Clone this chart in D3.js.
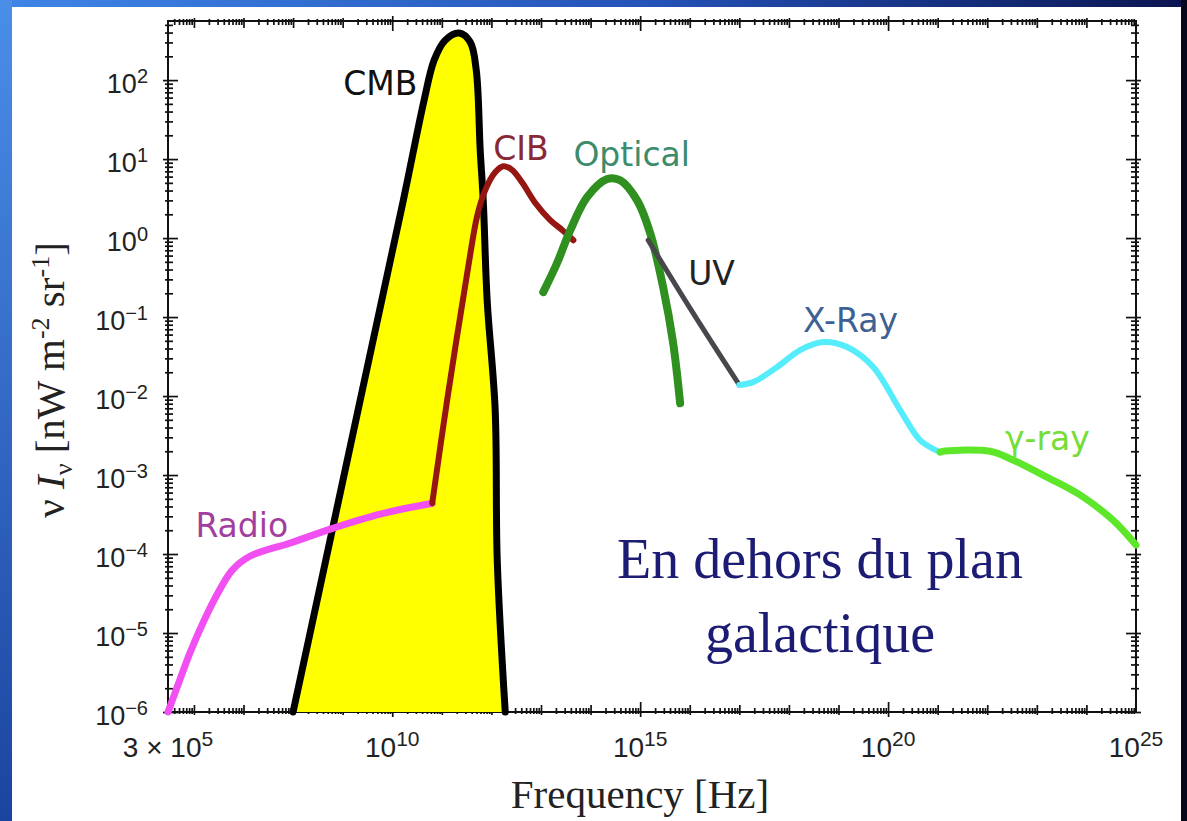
<!DOCTYPE html>
<html>
<head>
<meta charset="utf-8">
<script src="https://cdn.jsdelivr.net/npm/d3@7"></script>
<style>
  body { margin: 0; background: #fff; }
  svg { display: block; }
</style>
</head>
<body>
<div id="chart"></div>
<script>
// frequency [Hz] , nu I_nu [nW m^-2 sr^-1]
var cmb = [[1e8, 1e-6], [2.26e9, 8.9e-3], [1.67e10, 3.0], [4.4e10, 56], [7.0e10, 179],
  [1.17e11, 320], [2.24e11, 394], [3.74e11, 302], [4.94e11, 134], [5.94e11, 13],
  [6.84e11, 3.0], [8.2e11, 0.164], [1.19e12, 6.7e-3], [1.31e12, 8.4e-5], [1.9e12, 1e-6]];
var radio = [[3e5, 1e-6], [4.84e5, 2.26e-6], [8.45e5, 5.74e-6], [1.55e6, 1.38e-5], [2.97e6, 3.12e-5],
  [5.94e6, 6.27e-5], [1.37e7, 9.44e-5], [8.8e7, 1.38e-4], [6.5e8, 2.13e-4], [5.7e9, 3.2e-4], [6.4e10, 4.4e-4]];
var cib = [[6.4e10, 4.4e-4], [1.28e11, 8.9e-3], [3.4e11, 0.43], [5.2e11, 1.95], [7.5e11, 4.05],
  [1.19e12, 6.8], [1.73e12, 8.1], [2.6e12, 7.3], [4.2e12, 5.0], [7.6e12, 2.8],
  [1.53e13, 1.69], [2.7e13, 1.26], [4.5e13, 0.94]];
var optical = [[1.11e13, 0.207], [2.1e13, 0.48], [3.9e13, 1.26], [8.5e13, 3.3], [2.16e14, 5.6],
  [3.95e14, 5.4], [8.7e14, 3.0], [1.59e15, 1.16], [2.9e15, 0.24], [4.6e15, 0.048], [6.4e15, 8.1e-3]];
var uv = [[1.45e15, 0.94], [1.17e16, 0.112], [1.0e17, 0.0138]];
var xray = [[1.0e17, 0.0138], [1.9e17, 0.0150], [5.8e17, 0.0233], [1.68e18, 0.0382], [4.9e18, 0.0483],
  [1.49e19, 0.0417], [5.0e19, 0.0233], [1.75e20, 6.65e-3], [4.4e20, 2.77e-3], [1.12e21, 1.95e-3]];
var gamma = [[1.12e21, 1.95e-3], [1.41e21, 2.01e-3], [1.14e22, 2.0e-3], [3.3e22, 1.55e-3],
  [1.6e23, 9.4e-4], [7.4e23, 5.6e-4], [3.4e24, 2.7e-4], [1e25, 1.3e-4]];

var seriesNames = ["Radio", "CIB", "Optical", "UV", "X-Ray", "γ-ray"];
var labelNames = ["CMB", "CIB", "Optical", "UV", "X-Ray", "γ-ray", "Radio"];
var labelAt = [[1.03e9, 65], [1.09e12, 9.7], [4.5e13, 8.1], [9.3e15, 0.254], [1.93e18, 0.0645], [2.29e22, 2.07e-3], [1.07e6, 1.64e-4]];

var xTickValues = [3e5, 1e10, 1e15, 1e20, 1e25];
var xTickBase = ["3 × 10", "10", "10", "10", "10"];
var xTickExp = ["5", "10", "15", "20", "25"];
var yTickValues = [1e-6, 1e-5, 1e-4, 1e-3, 1e-2, 1e-1, 1e0, 1e1, 1e2];
var yTickExp = ["−6", "−5", "−4", "−3", "−2", "−1", "0", "1", "2"];

var width = 1187, height = 821;
var plot = { left: 168, right: 1136, top: 21, bottom: 712 };

var x = d3.scaleLog().domain([3e5, 1e25]).range([plot.left, plot.right]);
var y = d3.scaleLog().domain([1e-6, 560]).range([plot.bottom, plot.top]);

var svg = d3.select("#chart").append("svg").attr("width", width).attr("height", height);
var defs = svg.append("defs");

var gTop = defs.append("linearGradient").attr("id", "topGrad")
  .attr("x1", "0%").attr("x2", "100%").attr("y1", "0%").attr("y2", "0%");
gTop.append("stop").attr("offset", "0%").attr("stop-color", "#3f86e6");
gTop.append("stop").attr("offset", "55%").attr("stop-color", "#2452b8");
gTop.append("stop").attr("offset", "100%").attr("stop-color", "#0b1450");

var gLeft = defs.append("linearGradient").attr("id", "leftGrad")
  .attr("x1", "0%").attr("x2", "0%").attr("y1", "0%").attr("y2", "100%");
gLeft.append("stop").attr("offset", "0%").attr("stop-color", "#4a8ee8");
gLeft.append("stop").attr("offset", "100%").attr("stop-color", "#1b44a0");

// slide frame
svg.append("rect").attr("width", width).attr("height", height).attr("fill", "url(#topGrad)");
svg.append("rect").attr("x", 0).attr("y", 0).attr("width", 12).attr("height", height).attr("fill", "url(#leftGrad)");
svg.append("rect").attr("x", 1181).attr("y", 0).attr("width", 6).attr("height", height).attr("fill", "#05081c");
svg.append("rect").attr("x", 12).attr("y", 7).attr("width", 1169).attr("height", height - 7).attr("fill", "#ffffff");

// tick values
var xMinor = [], xDec = [], xFive = [];
for (var k = 5; k <= 25; k++) {
  for (var m = 1; m <= 9; m++) {
    var v = +(m + "e" + k);
    if (v <= 3e5 || v >= 1e25) continue;
    if (m > 1) xMinor.push(v);
    else if (k % 5 === 0) xFive.push(v);
    else xDec.push(v);
  }
}
var yMinor = [], yDec = [];
for (var k2 = -6; k2 <= 2; k2++) {
  for (var m2 = 1; m2 <= 9; m2++) {
    var v2 = +(m2 + "e" + k2);
    if (v2 > 560) continue;
    if (m2 > 1) yMinor.push(v2);
    else yDec.push(v2);
  }
}

var axes = svg.append("g").attr("class", "axes");

function crossTicks(axisFn, scale, values, inner, outer, tx, ty) {
  [-inner, outer].forEach(function(s) {
    axes.append("g")
      .attr("transform", "translate(" + tx + "," + ty + ")")
      .call(axisFn(scale).tickValues(values).tickSizeInner(s).tickSizeOuter(0).tickFormat(""))
      .call(function(g) { g.select(".domain").remove(); });
  });
}

crossTicks(d3.axisBottom, x, xMinor, 4, 2, 0, plot.bottom);
crossTicks(d3.axisBottom, x, xDec, 7, 3, 0, plot.bottom);
crossTicks(d3.axisBottom, x, xFive, 10, 5, 0, plot.bottom);
crossTicks(d3.axisTop, x, xMinor, 4, 2, 0, plot.top);
crossTicks(d3.axisTop, x, xDec, 7, 3, 0, plot.top);
crossTicks(d3.axisTop, x, xFive, 10, 5, 0, plot.top);
crossTicks(d3.axisLeft, y, yMinor, 5, 3, plot.left, 0);
crossTicks(d3.axisLeft, y, yDec, 10, 5, plot.left, 0);
crossTicks(d3.axisRight, y, yMinor, 5, 3, plot.right, 0);
crossTicks(d3.axisRight, y, yDec, 10, 5, plot.right, 0);

axes.selectAll("line").attr("stroke", "#111").attr("stroke-width", 1.7);

axes.append("rect")
  .attr("x", plot.left).attr("y", plot.top)
  .attr("width", plot.right - plot.left).attr("height", plot.bottom - plot.top)
  .attr("fill", "none").attr("stroke", "#111").attr("stroke-width", 2);

// tick labels
var tickFont = "'Liberation Sans', Arial, sans-serif";
var xl = svg.append("g").attr("class", "xlabels")
  .style("font-family", tickFont).attr("fill", "#222");
xTickValues.forEach(function(v, i) {
  var t = xl.append("text").attr("x", x(v)).attr("y", 757).attr("text-anchor", "middle")
    .style("font-size", "28px");
  t.append("tspan").text(xTickBase[i]);
  t.append("tspan").attr("dy", -11).style("font-size", "21px").text(xTickExp[i]);
});

var yl = svg.append("g").attr("class", "ylabels")
  .style("font-family", tickFont).attr("fill", "#222");
yTickValues.forEach(function(v, i) {
  var t = yl.append("text").attr("x", 148).attr("y", y(v) + 13).attr("text-anchor", "end")
    .style("font-size", "27px");
  t.append("tspan").text("10");
  t.append("tspan").attr("dy", -10).style("font-size", "20px").text(yTickExp[i]);
});

// axis titles
var serif = "'Liberation Serif', 'Times New Roman', serif";
svg.append("text")
  .attr("x", 640).attr("y", 808).attr("text-anchor", "middle")
  .style("font-family", serif).style("font-size", "41px").attr("fill", "#222")
  .text("Frequency [Hz]");

var yt = svg.append("text")
  .attr("transform", "translate(64,380) rotate(-90)")
  .attr("text-anchor", "middle")
  .style("font-family", serif).style("font-size", "41px").attr("fill", "#222");
yt.append("tspan").text("ν ");
yt.append("tspan").style("font-style", "italic").text("I");
yt.append("tspan").attr("dy", 8).style("font-size", "26px").text("ν");
yt.append("tspan").attr("dy", -8).text(" [nW m");
yt.append("tspan").attr("dy", -15).style("font-size", "26px").text("-2");
yt.append("tspan").attr("dy", 15).text(" sr");
yt.append("tspan").attr("dy", -15).style("font-size", "26px").text("-1");
yt.append("tspan").attr("dy", 15).text("]");

// curves
var line = d3.line()
  .x(function(d) { return x(d[0]); })
  .y(function(d) { return y(d[1]); })
  .curve(d3.curveCatmullRom.alpha(0.5));

var area = d3.area()
  .x(function(d) { return x(d[0]); })
  .y0(plot.bottom)
  .y1(function(d) { return y(d[1]); })
  .curve(d3.curveCatmullRom.alpha(0.5));

var curves = svg.append("g").attr("class", "curves")
  .attr("fill", "none").attr("stroke-linecap", "round").attr("stroke-linejoin", "round");

curves.append("path").datum(cmb).attr("d", area).attr("fill", "#ffff00").attr("stroke", "none");
curves.append("path").datum(cmb).attr("d", line).attr("stroke", "#000").attr("stroke-width", 7);

var seriesData = [radio, cib, optical, uv, xray, gamma];
var seriesColor = ["#f24ff2", "#961712", "#2f8f1f", "#47474c", "#55ecfb", "#5ee62a"];
var seriesWidth = [7, 6, 8, 5, 6, 7];
seriesData.forEach(function(d, i) {
  curves.append("path").datum(d).attr("class", "line " + seriesNames[i])
    .attr("d", line)
    .attr("stroke", seriesColor[i])
    .attr("stroke-width", seriesWidth[i]);
});

// curve labels
var labelColor = ["#111", "#8a2836", "#3b8b6c", "#222", "#3c6192", "#74dd36", "#a23f9e"];
var lbl = svg.append("g").attr("class", "labels")
  .style("font-family", "'DejaVu Sans', Verdana, sans-serif").style("font-size", "33px");
labelNames.forEach(function(n, i) {
  lbl.append("text")
    .attr("x", x(labelAt[i][0]))
    .attr("y", y(labelAt[i][1]))
    .attr("fill", labelColor[i])
    .text(n);
});

// annotation
var note = svg.append("text")
  .attr("text-anchor", "middle")
  .style("font-family", serif).style("font-size", "56px").attr("fill", "#1c1c74");
note.append("tspan").attr("x", 820).attr("y", 578).text("En dehors du plan");
note.append("tspan").attr("x", 820).attr("y", 652).text("galactique");
</script>
</body>
</html>
